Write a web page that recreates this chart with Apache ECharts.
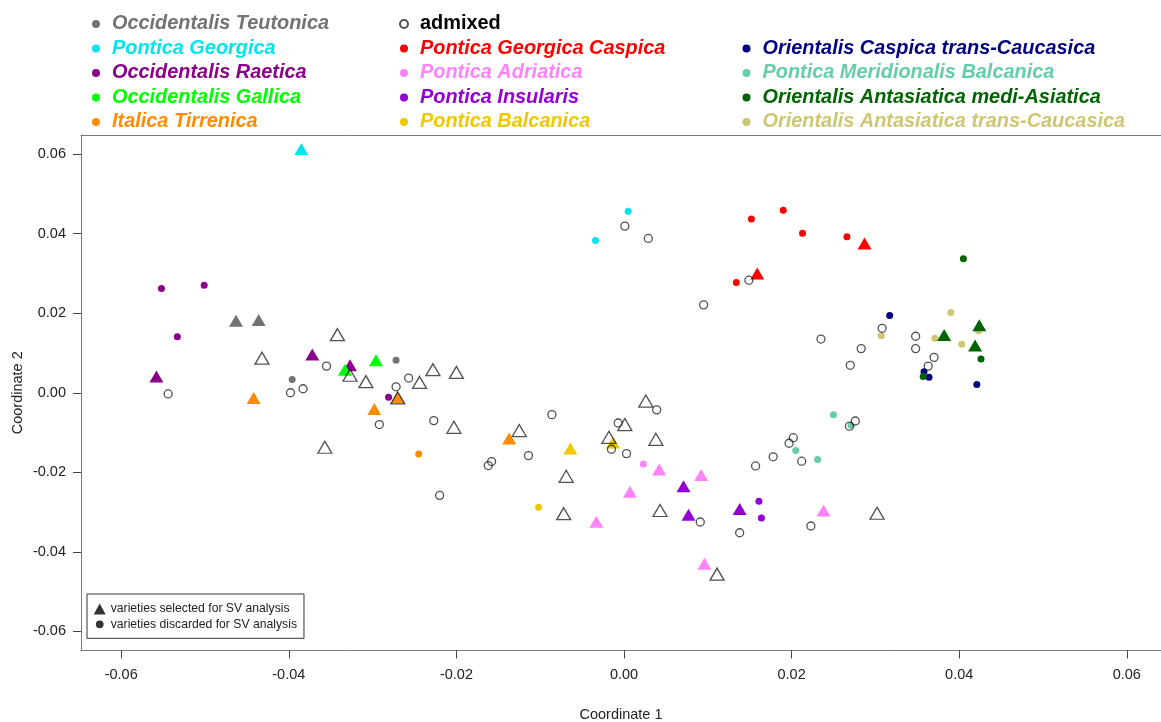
<!DOCTYPE html>
<html>
<head>
<meta charset="utf-8">
<script src="https://cdn.jsdelivr.net/npm/echarts@6/dist/echarts.min.js"></script>
<style>
html,body{margin:0;padding:0;background:#fff;}
#chart{width:1161px;height:722px;}
</style>
</head>
<body>
<div id="chart"></div>
<script>
// ---------- data ----------
const xTicks = [-0.06, -0.04, -0.02, 0, 0.02, 0.04, 0.06];
const yTicks = [-0.06, -0.04, -0.02, 0, 0.02, 0.04, 0.06];

const teutonicaSel = [[-0.0463,0.0181],[-0.0436,0.0183]];
const teutonicaDisc = [[-0.0396,0.0033],[-0.0272,0.0082]];

const georgicaSel = [[-0.0385,0.0613]];
const georgicaDisc = [[0.0005,0.0456],[-0.0034,0.0383]];

const raeticaSel = [[-0.0372,0.0096],[-0.0327,0.0069],[-0.0558,0.0041]];
const raeticaDisc = [[-0.0552,0.0262],[-0.0501,0.0270],[-0.0533,0.0141],[-0.0281,-0.0011]];

const gallicaSel = [[-0.0333,0.0058],[-0.0296,0.0082]];
const gallicaDisc = [];

const tirrenicaSel = [[-0.0442,-0.0013],[-0.0270,-0.0011],[-0.0298,-0.0041],[-0.0137,-0.0115]];
const tirrenicaDisc = [[-0.0245,-0.0154]];

const caspicaSel = [[0.0287,0.0375],[0.0159,0.0300]];
const caspicaDisc = [[0.0152,0.0437],[0.0190,0.0459],[0.0213,0.0401],[0.0266,0.0392],[0.0134,0.0277]];

const adriaticaSel = [[-0.0033,-0.0324],[0.0042,-0.0193],[0.0092,-0.0207],[0.0007,-0.0249],[0.0096,-0.0430],[0.0238,-0.0296]];
const adriaticaDisc = [[0.0023,-0.0179]];

const insularisSel = [[0.0071,-0.0235],[0.0077,-0.0307],[0.0138,-0.0292]];
const insularisDisc = [[0.0161,-0.0273],[0.0164,-0.0315]];

const balcanicaSel = [[-0.0064,-0.0140],[-0.0013,-0.0125]];
const balcanicaDisc = [[-0.0102,-0.0288]];

const caspicaTransSel = [];
const caspicaTransDisc = [[0.0317,0.0194],[0.0358,0.0053],[0.0364,0.0039],[0.0421,0.0021]];

const meridionalisSel = [];
const meridionalisDisc = [[0.0205,-0.0145],[0.0231,-0.0168],[0.0250,-0.0055],[0.0271,-0.0082]];

const antTransSel = [];
const antTransDisc = [[0.0307,0.0143],[0.0390,0.0202],[0.0423,0.0156],[0.0371,0.0137],[0.0403,0.0122]];

const mediAsiaticaSel = [[0.0424,0.0170],[0.0382,0.0145],[0.0419,0.0119]];
const mediAsiaticaDisc = [[0.0405,0.0337],[0.0426,0.0085],[0.0357,0.0041]];

const admixedSel = [[-0.0342,0.0146],[-0.0432,0.0087],[-0.0327,0.0044],[-0.0308,0.0028],[-0.0228,0.0058],[-0.0200,0.0051],[-0.0244,0.0026],[-0.0270,-0.0013],[-0.0357,-0.0137],[-0.0203,-0.0087],[-0.0125,-0.0095],[-0.0069,-0.0210],[-0.0072,-0.0304],[-0.0018,-0.0112],[0.0001,-0.0080],[0.0026,-0.0021],[0.0038,-0.0117],[0.0043,-0.0296],[0.0111,-0.0456],[0.0302,-0.0303]];
const admixedDisc = [[-0.0355,0.0067],[-0.0398,0.0000],[-0.0383,0.0010],[-0.0544,-0.0003],[0.0001,0.0419],[-0.0257,0.0037],[-0.0272,0.0015],[-0.0292,-0.0080],[-0.0227,-0.0070],[-0.0158,-0.0173],[-0.0162,-0.0183],[-0.0220,-0.0258],[-0.0086,-0.0055],[-0.0114,-0.0158],[-0.0015,-0.0142],[-0.0007,-0.0076],[0.0003,-0.0153],[0.0039,-0.0043],[0.0091,-0.0325],[0.0138,-0.0352],[0.0157,-0.0184],[0.0178,-0.0161],[0.0197,-0.0127],[0.0202,-0.0113],[0.0212,-0.0172],[0.0269,-0.0084],[0.0276,-0.0071],[0.0223,-0.0335],[0.0029,0.0388],[0.0149,0.0283],[0.0095,0.0221],[0.0308,0.0162],[0.0235,0.0135],[0.0283,0.0111],[0.0270,0.0069],[0.0348,0.0142],[0.0348,0.0111],[0.0370,0.0089],[0.0363,0.0067]];

const groupNames = [
  'Occidentalis Teutonica','Pontica Georgica','Occidentalis Raetica','Occidentalis Gallica','Italica Tirrenica',
  'admixed','Pontica Georgica Caspica','Pontica Adriatica','Pontica Insularis','Pontica Balcanica',
  'Orientalis Caspica trans-Caucasica','Pontica Meridionalis Balcanica','Orientalis Antasiatica medi-Asiatica','Orientalis Antasiatica trans-Caucasica'
];
const groupColors = {
  'Occidentalis Teutonica':'#737373',
  'Pontica Georgica':'#00E5EE',
  'Occidentalis Raetica':'#8B008B',
  'Occidentalis Gallica':'#00FF00',
  'Italica Tirrenica':'#FF8C00',
  'admixed':'#000000',
  'Pontica Georgica Caspica':'#FF0000',
  'Pontica Adriatica':'#FF83FA',
  'Pontica Insularis':'#9400D3',
  'Pontica Balcanica':'#EEC900',
  'Orientalis Caspica trans-Caucasica':'#000080',
  'Pontica Meridionalis Balcanica':'#66CDAA',
  'Orientalis Antasiatica medi-Asiatica':'#006400',
  'Orientalis Antasiatica trans-Caucasica':'#CDC673'
};
const groupData = {
  'Occidentalis Teutonica':[teutonicaSel,teutonicaDisc],
  'Pontica Georgica':[georgicaSel,georgicaDisc],
  'Occidentalis Raetica':[raeticaSel,raeticaDisc],
  'Occidentalis Gallica':[gallicaSel,gallicaDisc],
  'Italica Tirrenica':[tirrenicaSel,tirrenicaDisc],
  'Pontica Georgica Caspica':[caspicaSel,caspicaDisc],
  'Pontica Adriatica':[adriaticaSel,adriaticaDisc],
  'Pontica Insularis':[insularisSel,insularisDisc],
  'Pontica Balcanica':[balcanicaSel,balcanicaDisc],
  'Orientalis Caspica trans-Caucasica':[caspicaTransSel,caspicaTransDisc],
  'Pontica Meridionalis Balcanica':[meridionalisSel,meridionalisDisc],
  'Orientalis Antasiatica trans-Caucasica':[antTransSel,antTransDisc],
  'Orientalis Antasiatica medi-Asiatica':[mediAsiaticaSel,mediAsiaticaDisc],
  'admixed':[admixedSel,admixedDisc]
};
const selLabel = 'varieties selected for SV analysis';
const discLabel = 'varieties discarded for SV analysis';

// ---------- chart ----------
const FONT = '"Liberation Sans", Arial, Helvetica, sans-serif';
const chart = echarts.init(document.getElementById('chart'), null, {renderer:'canvas'});

const series = Object.keys(groupData).map(function(name){
  const sel = groupData[name][0], disc = groupData[name][1];
  const isAdm = name === 'admixed';
  const data = [];
  sel.forEach(function(p){ data.push({value:p, symbol:'triangle', symbolSize:[14,12]}); });
  disc.forEach(function(p){ data.push({value:p, symbol:'circle', symbolSize: isAdm ? 8 : 7}); });
  return {
    type:'scatter', name:name, symbol:'circle', symbolSize:7,
    itemStyle: isAdm ? {color:'rgba(255,255,255,0)', borderColor:'#262626', borderWidth:1.3}
                     : {color:groupColors[name], opacity:1},
    emphasis:{disabled:true},
    data:data, z: isAdm ? 3 : 2
  };
});
series.push({type:'scatter', name:selLabel, symbol:'triangle', itemStyle:{color:'#000'}, data:[]});
series.push({type:'scatter', name:discLabel, symbol:'circle', itemStyle:{color:'#000'}, data:[]});

function legendCol(names, left, top){
  return {
    orient:'vertical', left:left, top:top, padding:0, itemGap:4.5,
    itemWidth:22, itemHeight:8, icon:'circle', selectedMode:false,
    textStyle:{fontFamily:FONT, fontSize:19.9, fontWeight:'bold', fontStyle:'italic', lineHeight:20},
    data: names.map(function(n){
      return {name:n, textStyle:{color: groupColors[n], fontStyle: n==='admixed' ? 'normal' : 'italic'}};
    })
  };
}

const axisLineStyle = {color:'#7a7a7a', width:1};

const option = {
  animation:false,
  backgroundColor:'#fff',
  textStyle:{fontFamily:FONT},
  grid:{left:81, right:0, top:135, bottom:71.5, show:false, containLabel:false, outerBoundsMode:'none'},
  legend:[
    legendCol(groupNames.slice(0,5), 92, 14),
    legendCol(groupNames.slice(5,10), 399, 14),
    legendCol(groupNames.slice(10,14), 742.5, 38.5),
    {
      orient:'vertical', left:87, top:594, padding:[8,7,7,6.7], itemGap:1.3,
      itemWidth:12, itemHeight:11, selectedMode:false,
      backgroundColor:'#fff', borderColor:'#333', borderWidth:1, borderRadius:0,
      textStyle:{fontFamily:FONT, fontSize:12.2, color:'#222', lineHeight:14},
      data:[
        {name:selLabel, icon:'triangle'},
        {name:discLabel, icon:'path://M0,0M22,22M11,3.2A7.8,7.8,0,1,1,10.99,3.2Z'}
      ]
    }
  ],
  xAxis:[{
    type:'value', min:-0.0648, max:0.06408, position:'bottom',
    name:'Coordinate 1', nameLocation:'middle', nameGap:57,
    nameTextStyle:{fontFamily:FONT, fontSize:14.5, color:'#222'},
    axisLine:{show:true, onZero:false, lineStyle:axisLineStyle},
    axisTick:{show:true, length:8, lineStyle:{color:'#444'}, customValues:xTicks},
    axisLabel:{fontFamily:FONT, fontSize:14.5, color:'#222', margin:17, customValues:xTicks,
      formatter:function(v){return v.toFixed(2);}},
    splitLine:{show:false}
  },{
    type:'value', min:-0.0648, max:0.06408, position:'top',
    axisLine:{show:true, onZero:false, lineStyle:axisLineStyle},
    axisTick:{show:false}, axisLabel:{show:false}, splitLine:{show:false}
  }],
  yAxis:{
    type:'value', min:-0.0648, max:0.0648,
    name:'Coordinate 2', nameLocation:'middle', nameGap:56, nameRotate:90, nameMoveOverlap:false,
    nameTextStyle:{fontFamily:FONT, fontSize:14.5, color:'#222'},
    axisLine:{show:true, onZero:false, lineStyle:axisLineStyle},
    axisTick:{show:true, length:8, lineStyle:{color:'#444'}, customValues:yTicks},
    axisLabel:{fontFamily:FONT, fontSize:14.5, color:'#222', margin:15, customValues:yTicks,
      formatter:function(v){return v.toFixed(2);}},
    splitLine:{show:false}
  },
  series:series
};
chart.setOption(option);
</script>
</body>
</html>
